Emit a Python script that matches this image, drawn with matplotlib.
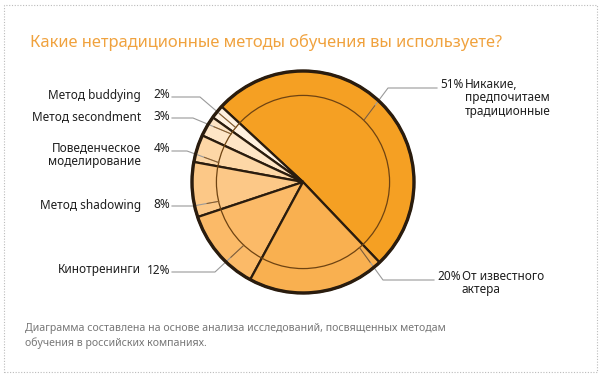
import numpy as np
import matplotlib
matplotlib.use('Agg')
import matplotlib.pyplot as plt
from matplotlib.patches import Circle, Rectangle

plt.rcParams['font.family'] = ['Noto Sans', 'DejaVu Sans']

# slice data, counter-clockwise from the lower right edge of the big slice
labels = ['Никакие,\nпредпочитаем\nтрадиционные', 'Метод buddying', 'Метод secondment',
          'Поведенческое\nмоделирование', 'Метод shadowing', 'Кинотренинги',
          'От известного\nактера']
values = [51, 2, 3, 4, 8, 12, 20]
colors = ['#f5a023', '#fff1e0', '#fee5c6', '#fdd7a6', '#fcc887', '#fbba68', '#f9b050']

title = 'Какие нетрадиционные методы обучения вы используете?'
note = ['Диаграмма составлена на основе анализа исследований, посвященных методам',
        'обучения в российских компаниях.']

W, H = 600, 376
CX, CY, R = 303, 182, 111
START = -46.4
LINE_H = 14

# label placement (pixel coords, y from top) and leader geometry
lab_side = ['right', 'left', 'left', 'left', 'left', 'left', 'right']
lab_y = [84, 95, 117, 148, 205, 270, 276]
kink = [(388, 88), (200, 97), (193, 118), (187, 151), (193, 206), (215, 272), (383, 280)]
line_start = [437, 172, 172, 172, 172, 172, 434]
anchor_frac = [0.50, 0.53, 0.17, 0.82, 0.81, 0.66, 0.96]


def Y(y):
    return H - y


fig = plt.figure(figsize=(6, 3.76), dpi=100)
ax = fig.add_axes([0, 0, 1, 1])
ax.set_xlim(0, W)
ax.set_ylim(0, H)
ax.set_aspect('equal')
ax.axis('off')

ax.add_patch(Rectangle((3.5, 4.5), 593, 367, fill=False, ec='#bbbbbb', lw=0.8,
                       ls=(0, (1, 1.5))))

wedges, _ = ax.pie(values, colors=colors, startangle=START, counterclock=True,
                   center=(CX, Y(CY)), radius=R,
                   wedgeprops=dict(edgecolor='#2a1c0e', linewidth=1.6))
ax.add_patch(Circle((CX, Y(CY)), R * 0.78, fill=False, ec='#6e4312', lw=0.9, zorder=3))
ax.add_patch(Circle((CX, Y(CY)), R, fill=False, ec='#2a1c0e', lw=2.4, zorder=4))

ax.set_xlim(0, W)
ax.set_ylim(0, H)

txt = dict(fontsize=8.5, color='#1e1e1e', va='center', fontweight='medium')
for i, w in enumerate(wedges):
    ang = np.deg2rad(w.theta1 + (w.theta2 - w.theta1) * anchor_frac[i])
    ex, ey = CX + 0.78 * R * np.cos(ang), Y(CY) + 0.78 * R * np.sin(ang)
    kx, ky = kink[i][0], Y(kink[i][1])
    ax.plot([line_start[i], kx, ex], [ky, ky, ey], color='#9a9a9a', lw=0.8, zorder=2)
    # darker part inside the pie
    dx, dy = kx - ex, ky - ey
    ax.plot([ex, ex + dx * 0.45], [ey, ey + dy * 0.45], color='#8c5a22', lw=0.7, zorder=3)

    pct = f'{values[i]}%'
    lines = labels[i].split('\n')
    if lab_side[i] == 'left':
        ax.text(170, Y(lab_y[i]), pct, ha='right', **txt)
        for k, s in enumerate(lines):
            ax.text(141, Y(lab_y[i] + k * LINE_H), s, ha='right', **txt)
    else:
        ax.text(line_start[i] + 3, Y(lab_y[i]), pct, ha='left', **txt)
        for k, s in enumerate(lines):
            ax.text(line_start[i] + 28, Y(lab_y[i] + k * LINE_H), s, ha='left', **txt)

ax.text(30, Y(42), title, ha='left', va='center', fontsize=11.9, color='#f0a23e')
for k, s in enumerate(note):
    ax.text(25, Y(328 + k * 15), s, ha='left', va='center', fontsize=7.6,
            color='#777777', fontweight='medium')

fig.savefig('out.png', dpi=100)
